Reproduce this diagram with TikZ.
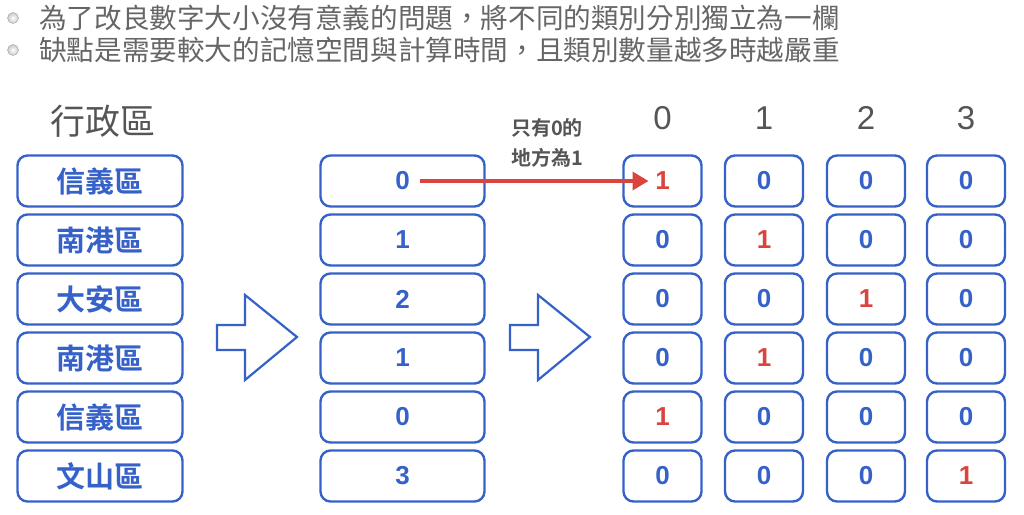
\documentclass[tikz,border=0pt]{standalone}
\usepackage{fontspec}
\usetikzlibrary{arrows.meta}
\setmainfont{Liberation Sans}
\newfontfamily\cjk{Noto Sans CJK TC}
\newfontfamily\cjkb{Noto Sans CJK TC Bold}
\definecolor{myblue}{HTML}{3561C9}
\definecolor{myred}{HTML}{D9443F}
\definecolor{mygray}{HTML}{555555}
\definecolor{lightgray}{HTML}{666666}
\definecolor{bulletgray}{HTML}{C8C8C8}
\tikzset{
  cell/.style={draw=myblue, line width=2.4pt, rounded corners=10pt, minimum height=51pt, inner sep=0pt, text=myblue, font=\fontsize{26}{26}\selectfont\bfseries},
  lbox/.style={cell, minimum width=165pt, font=\fontsize{29}{29}\selectfont\cjkb},
  mbox/.style={cell, minimum width=164pt},
  gbox/.style={cell, minimum width=78pt},
  one/.style={text=myred},
  hdr/.style={text=mygray, font=\fontsize{33}{33}\selectfont},
  bullettext/.style={anchor=west, text=lightgray, font=\fontsize{27.6}{28}\selectfont\cjk, inner sep=0pt},
  bigarrow/.style={draw=myblue, line width=2.2pt, line join=miter, fill=white},
}
\begin{document}
\begin{tikzpicture}[x=1pt,y=-1pt]
\useasboundingbox (0,0) rectangle (1024,514);
% bullets
\shade[inner color=white, outer color=bulletgray] (13,18) circle (5.5pt);
\draw[bulletgray!80!black, line width=0.4pt] (13,18) circle (5.5pt);
\shade[inner color=white, outer color=bulletgray] (13,50) circle (5.5pt);
\draw[bulletgray!80!black, line width=0.4pt] (13,50) circle (5.5pt);
\node[bullettext] (b1) at (39,18) {為了改良數字大小沒有意義的問題，將不同的類別分別獨立為一欄};
\node[bullettext] (b2) at (39,50) {缺點是需要較大的記憶空間與計算時間，且類別數量越多時越嚴重};
% header
\node[text=mygray, font=\fontsize{35}{35}\selectfont\cjk] (h) at (103,121) {行政區};
\foreach \i/\x in {0/662.5,1/764,2/866,3/966}{
  \node[hdr] (c\i) at (\x,118) {\i};
}
% left column
\foreach \t [count=\r] in {信義區,南港區,大安區,南港區,信義區,文山區}{
  \node[lbox] (l\r) at (100,{181+59*(\r-1)}) {\t};
}
% middle column
\foreach \t [count=\r] in {0,1,2,1,0,3}{
  \node[mbox] (m\r) at (402.5,{181+59*(\r-1)}) {\t};
}
% grid
\foreach \v [count=\r] in {0,1,2,1,0,3}{
  \foreach \j/\x in {0/662.5,1/764,2/866,3/966}{
    \ifnum\j=\v
      \node[gbox, one] (g\r\j) at (\x,{181+59*(\r-1)}) {1};
    \else
      \node[gbox] (g\r\j) at (\x,{181+59*(\r-1)}) {0};
    \fi
  }
}
% big hollow arrows
\draw[bigarrow] (217,325) -- (245,325) -- (245,295) -- (297,337) -- (245,380) -- (245,350) -- (217,350) -- cycle;
\draw[bigarrow] (510,325) -- (538,325) -- (538,295) -- (590,337) -- (538,380) -- (538,350) -- (510,350) -- cycle;
% red arrow
\draw[myred, line width=3.6pt, -{Triangle[length=16pt,width=18pt]}] ([xshift=17pt]m1.center) -- ([xshift=-14pt]g10.center);
\node[text=mygray, font=\fontsize{20}{30}\selectfont\cjkb, align=left] (lab) at (547,143) {只有0的\\地方為1};
\end{tikzpicture}
\end{document}
